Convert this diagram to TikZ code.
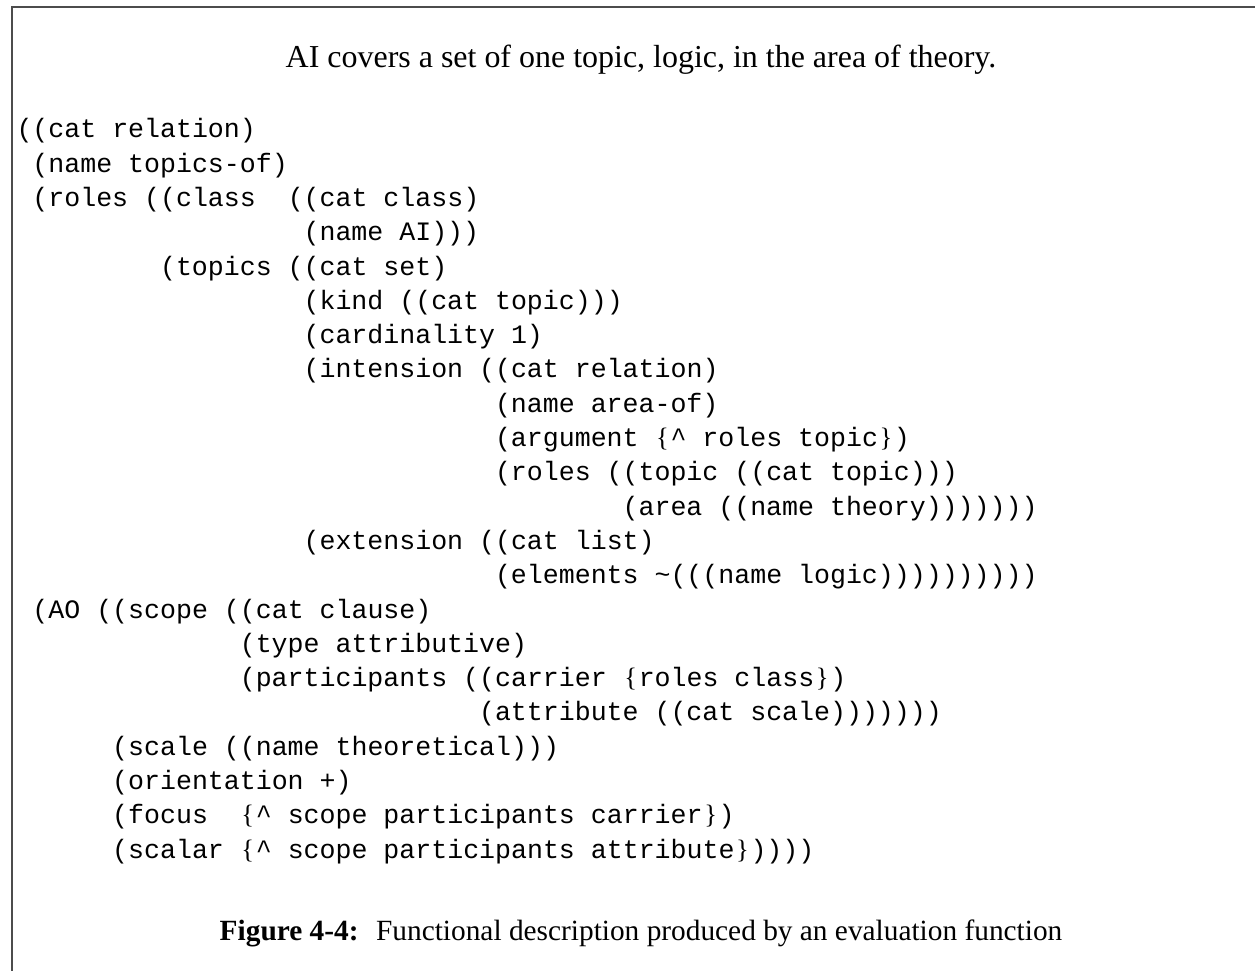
\documentclass[tikz,border=0pt]{standalone}
\usepackage{fontspec}
\setmainfont{Liberation Serif}
\setmonofont{Liberation Mono}
\newcommand\lb{\makebox[0.6em]{\rmfamily\{}}
\newcommand\rb{\makebox[0.6em]{\rmfamily\}}}
\newcommand\crt{\textasciicircum}
\newcommand\codeline[4]{\node[codetext] (#1) at ({16+#2*15.95},{137.9+#3*34.3}) {#4};}
\begin{document}
\begin{tikzpicture}[x=0.3817pt,y=-0.3817pt,
  codetext/.style={anchor=base west,inner sep=0pt,font=\ttfamily\fontsize{10.15}{13}\selectfont},
  titletext/.style={anchor=base,inner sep=0pt,font=\fontsize{12.2}{14}\selectfont},
  captiontext/.style={anchor=base,inner sep=0pt,font=\fontsize{11.2}{13}\selectfont},
  frameline/.style={draw=black!70,line width=0.76pt}]
\useasboundingbox (0,0) rectangle (1255,971);
\draw[frameline] (12,971) -- (12,7) -- (1255,7);
\node[titletext] (title) at (641,68) {AI covers a set of one topic, logic, in the area of theory.};
\codeline{l1}{0}{0}{((cat relation)}
\codeline{l2}{1}{1}{(name topics-of)}
\codeline{l3}{1}{2}{(roles ((class\ \ ((cat class)}
\codeline{l4}{18}{3}{(name AI)))}
\codeline{l5}{9}{4}{(topics ((cat set)}
\codeline{l6}{18}{5}{(kind ((cat topic)))}
\codeline{l7}{18}{6}{(cardinality 1)}
\codeline{l8}{18}{7}{(intension ((cat relation)}
\codeline{l9}{30}{8}{(name area-of)}
\codeline{l10}{30}{9}{(argument \lb\crt{} roles topic\rb)}
\codeline{l11}{30}{10}{(roles ((topic ((cat topic)))}
\codeline{l12}{38}{11}{(area ((name theory)))))))}
\codeline{l13}{18}{12}{(extension ((cat list)}
\codeline{l14}{30}{13}{(elements \textasciitilde(((name logic))))))))))}
\codeline{l15}{1}{14}{(AO ((scope ((cat clause)}
\codeline{l16}{14}{15}{(type attributive)}
\codeline{l17}{14}{16}{(participants ((carrier \lb roles class\rb)}
\codeline{l18}{29}{17}{(attribute ((cat scale)))))))}
\codeline{l19}{6}{18}{(scale ((name theoretical)))}
\codeline{l20}{6}{19}{(orientation +)}
\codeline{l21}{6}{20}{(focus\ \ \lb\crt{} scope participants carrier\rb)}
\codeline{l22}{6}{21}{(scalar \lb\crt{} scope participants attribute\rb))))}
\node[captiontext] (caption) at (641,940) {\textbf{Figure 4-4:}\hspace{0.6em}Functional description produced by an evaluation function};
\end{tikzpicture}
\end{document}
